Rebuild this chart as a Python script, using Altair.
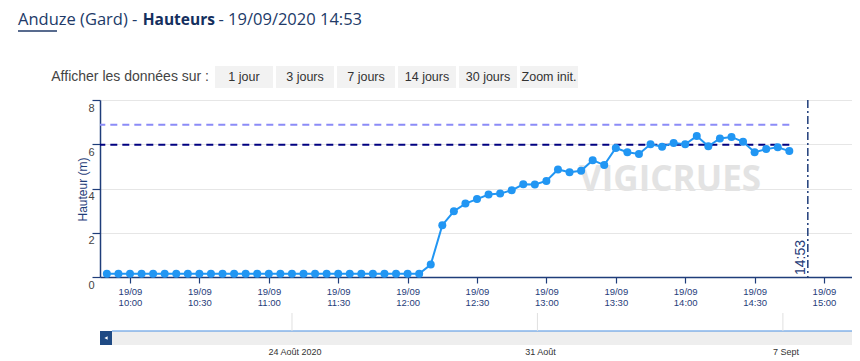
import altair as alt
import pandas as pd

# ---------------- data ----------------
DAY = "2020-09-19"
times = ["09:50", "09:55", "10:00", "10:05", "10:10", "10:15", "10:20", "10:25",
         "10:30", "10:35", "10:40", "10:45", "10:50", "10:55", "11:00", "11:05",
         "11:10", "11:15", "11:20", "11:25", "11:30", "11:35", "11:40", "11:45",
         "11:50", "11:55", "12:00", "12:05", "12:10", "12:15", "12:20", "12:25",
         "12:30", "12:35", "12:40", "12:45", "12:50", "12:55", "13:00", "13:05",
         "13:10", "13:15", "13:20", "13:25", "13:30", "13:35", "13:40", "13:45",
         "13:50", "13:55", "14:00", "14:05", "14:10", "14:15", "14:20", "14:25",
         "14:30", "14:35", "14:40", "14:45"]
heights = [0.15, 0.15, 0.15, 0.15, 0.15, 0.15, 0.15, 0.15,
           0.15, 0.15, 0.15, 0.15, 0.15, 0.15, 0.15, 0.15,
           0.15, 0.15, 0.15, 0.15, 0.15, 0.15, 0.15, 0.15,
           0.15, 0.15, 0.15, 0.15, 0.56, 2.34, 2.97, 3.32,
           3.52, 3.73, 3.77, 3.92, 4.19, 4.18, 4.34, 4.86,
           4.74, 4.80, 5.28, 5.06, 5.83, 5.64, 5.56, 6.00,
           5.89, 6.06, 6.00, 6.37, 5.91, 6.26, 6.33, 6.11,
           5.64, 5.78, 5.86, 5.69]
threshold_values = [6.88, 5.98]
threshold_colors = ["#8c8cf7", "#000080"]
now_time = "14:53"
x_tick_times = ["10:00", "10:30", "11:00", "11:30", "12:00", "12:30",
                "13:00", "13:30", "14:00", "14:30", "15:00"]
x_window = ["09:47:02", "15:12:06"]
y_ticks = [0, 2, 4, 6, 8]
nav_dates = ["2020-08-24", "2020-08-31", "2020-09-07"]
nav_labels = ["24 Août 2020", "31 Août", "7 Sept"]
nav_window = ["2020-08-18T12:36:00", "2020-09-08T23:18:00"]
buttons = ["1 jour", "3 jours", "7 jours", "14 jours", "30 jours", "Zoom init."]
title_parts = ["Anduze (Gard) -", "Hauteurs", "- 19/09/2020 14:53"]

# ---------------- style ----------------
FONT = "Liberation Sans"
TFONT = "Open Sans"
NAVY = "#1f3d7a"
BLUE = "#2196f3"
W, H = 752, 177


def iso(day, hm):
    if len(hm) == 5:
        hm += ":00"
    return f"{day}T{hm}Z"


def to_dt(s):
    d, t = s.split("T")
    y, mo, da = map(int, d.split("-"))
    h, mi, se = map(int, t.split(":"))
    return alt.DateTime(year=y, month=mo, date=da, hours=h, minutes=mi,
                        seconds=se, utc=True)


df = pd.DataFrame({"t": [iso(DAY, t) for t in times], "h": heights})
thr = pd.DataFrame({"v": threshold_values, "c": threshold_colors,
                    "end": [iso(DAY, times[-1])] * len(threshold_values)})
now_df = pd.DataFrame({"t": [iso(DAY, now_time)], "label": [now_time]})

xs = alt.Scale(type="utc", domain=[to_dt(f"{DAY}T{x_window[0]}"),
                                   to_dt(f"{DAY}T{x_window[1]}")])
ys = alt.Scale(domain=[0, 8], nice=False)

x_axis = alt.Axis(
    values=[to_dt(f"{DAY}T{t}:00") for t in x_tick_times],
    labelExpr="[utcFormat(datum.value, '%d/%m'), utcFormat(datum.value, '%H:%M')]",
    title=None, grid=False, labelFont=FONT, labelFontSize=9.5, labelColor=NAVY,
    labelLineHeight=11, labelPadding=3, tickSize=6, tickColor=NAVY, tickWidth=1.2,
    domainColor=NAVY, domainWidth=1.5, labelOverlap=False, labelFlush=False)
y_axis = alt.Axis(
    values=y_ticks, title="Hauteur (m)", titleFont=FONT, titleFontSize=12,
    titleFontWeight="normal", titleColor=NAVY, titleX=-18, titleY=89,
    titleBaseline="middle", grid=True, gridColor="#e6e6e6", gridWidth=1,
    labelFont=FONT, labelFontSize=11, labelColor="#444444", labelBaseline="top",
    labelOffset=2, labelPadding=-2, tickSize=8, tickColor=NAVY, tickWidth=1.2,
    domainColor=NAVY, domainWidth=1.5, labelOverlap=False)

X = alt.X("t:T", scale=xs, axis=x_axis)

thr_layer = alt.Chart(thr).mark_rule(strokeDash=[7, 5], strokeWidth=2).encode(
    x=alt.X("end:T", scale=xs, axis=x_axis), x2=alt.value(0),
    y=alt.Y("v:Q", scale=ys, axis=y_axis), color=alt.Color("c:N", scale=None))
line = alt.Chart(df).mark_line(color=BLUE, strokeWidth=2).encode(
    x=X, y=alt.Y("h:Q", scale=ys, axis=y_axis))
pts = alt.Chart(df).mark_circle(color=BLUE, size=64, opacity=1).encode(
    x=X, y=alt.Y("h:Q", scale=ys, axis=y_axis))
now_rule = alt.Chart(now_df).mark_rule(color=NAVY, strokeDash=[8, 3, 2, 3],
                                       strokeWidth=1.5).encode(x=X)
now_text = alt.Chart(now_df).mark_text(
    angle=270, align="left", baseline="alphabetic", dy=-3, fontSize=14,
    font=FONT, color=NAVY).encode(x=X, y=alt.value(175), text="label:N")

main = alt.layer(thr_layer, line, pts, now_rule, now_text)

# ---------------- decorations (page chrome) ----------------
def text1(s, x, y, **kw):
    return alt.Chart(pd.DataFrame({"s": [s]})).mark_text(**kw).encode(
        x=alt.value(x), y=alt.value(y), text="s:N")


def box(x, x2, y, y2, color):
    return alt.Chart(pd.DataFrame({"s": [0]})).mark_rect(color=color).encode(
        x=alt.value(x), x2=alt.value(x2), y=alt.value(y), y2=alt.value(y2))


bdf = pd.DataFrame({"label": buttons})
bdf["cx"] = [144 + 61 * i for i in range(len(buttons))]
bdf["x1"] = bdf["cx"] - 29
bdf["x2"] = bdf["cx"] + 29
btn_rect = alt.Chart(bdf).mark_rect(color="#f2f2f2").encode(
    x=alt.X("x1:Q", scale=None, axis=None), x2="x2:Q",
    y=alt.value(-34), y2=alt.value(-12))
btn_text = alt.Chart(bdf).mark_text(font=FONT, fontSize=12.5, color="#333333",
                                    baseline="middle").encode(
    x=alt.X("cx:Q", scale=None, axis=None), y=alt.value(-23), text="label:N")

TY = -75
decor = alt.layer(
    text1(title_parts[0], -82, TY, font=TFONT, fontSize=16.5, color="#213a68",
          align="left", baseline="alphabetic"),
    text1(title_parts[1], 42.7, TY, font=TFONT, fontSize=15.5, color="#142f5e",
          fontWeight="bold", align="left", baseline="alphabetic"),
    text1(title_parts[2], 118.5, TY, font=TFONT, fontSize=16.5, color="#213a68",
          align="left", baseline="alphabetic"),
    alt.Chart(pd.DataFrame({"s": [0]})).mark_rule(color="#213a68", strokeWidth=1.5).encode(
        x=alt.value(-82), x2=alt.value(-43), y=alt.value(-69)),
    text1("Afficher les données sur :", 109, -23, font=FONT, fontSize=14,
          color="#444444", align="right", baseline="middle"),
    btn_rect, btn_text,
    text1("VIGICRUES", 570, 80, font=TFONT, fontSize=35, fontWeight="bold",
          color="#e3e3e3", align="center", baseline="middle"),
    box(12, W, 231, 245, "#eeeeee"),
    alt.Chart(pd.DataFrame({"s": [0]})).mark_rule(color="#4a90e2", strokeWidth=1.2).encode(
        x=alt.value(12), x2=alt.value(W), y=alt.value(231)),
    box(0, 12, 231, 245, "#1f4a84"),
    alt.Chart(pd.DataFrame({"s": [0]})).mark_point(
        shape="triangle-left", filled=True, size=14, color="white", opacity=1).encode(
        x=alt.value(6), y=alt.value(238)),
)

# ---------------- navigator date ticks ----------------
ndf = pd.DataFrame({"d": [d + "T00:00:00Z" for d in nav_dates], "label": nav_labels})
nav_scale = alt.Scale(type="utc", domain=[to_dt(nav_window[0]), to_dt(nav_window[1])])
NX = alt.X("d:T", scale=nav_scale, axis=None)
nav = alt.layer(
    alt.Chart(ndf).mark_rule(color="#e0e0e0", strokeWidth=1).encode(
        x=NX, y=alt.value(213), y2=alt.value(231)),
    alt.Chart(ndf).mark_text(font=FONT, fontSize=9, color="#333333", dx=3,
                             baseline="middle").encode(
        x=NX, y=alt.value(251.5), text="label:N"),
)

chart = alt.layer(decor, main, nav).resolve_scale(
    x="independent", y="independent"
).properties(
    width=W, height=H,
    padding={"left": 92, "top": 92, "right": 0, "bottom": 80},
    autosize=alt.AutoSizeParams(type="none"),
).configure_view(stroke=None)

chart.save("out.html", embed_options={"renderer": "svg", "actions": False})
